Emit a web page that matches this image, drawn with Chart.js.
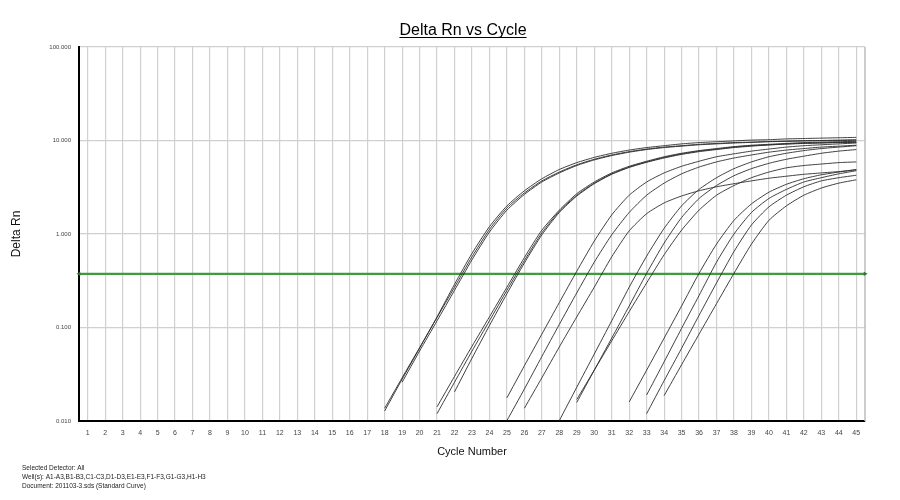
<!DOCTYPE html>
<html>
<head>
<meta charset="utf-8">
<script src="https://cdn.jsdelivr.net/npm/chart.js@4.4.1/dist/chart.umd.min.js"></script>
<style>
html,body{margin:0;padding:0;background:#fff;}
#c{display:block;}
</style>
</head>
<body>
<canvas id="c" width="900" height="500"></canvas>
<script>
// ---- data ----
const cycles = [1,2,3,4,5,6,7,8,9,10,11,12,13,14,15,16,17,18,19,20,21,22,23,24,25,26,27,28,29,30,31,32,33,34,35,36,37,38,39,40,41,42,43,44,45];
const yTicks = [0.01, 0.1, 1, 10, 100];
const threshold = 0.375;

const curveNames = ['G1a','G1b','G1c','G2a','G2b','G2c','G3a','G3b','G3c','G4a','G4b','G4c','G5a','G5b','G5c','G5d'];
const curveStarts = [18,18,19,21,21,22,25,25,26,28,29,29,32,33,33,34];

const g1a = [0.0128,0.028,0.06,0.13,0.29,0.62,1.2,2.0,2.9,3.9,4.9,5.8,6.6,7.3,7.9,8.4,8.8,9.2,9.5,9.7,9.9,10.1,10.2,10.4,10.5,10.6,10.7,10.8];
const g1b = [0.0137,0.029,0.061,0.128,0.27,0.57,1.12,1.9,2.75,3.7,4.6,5.5,6.3,7.0,7.6,8.1,8.5,8.8,9.1,9.3,9.5,9.6,9.75,9.85,9.95,10.0,10.1,10.2];
const g1c = [0.026,0.056,0.118,0.25,0.53,1.05,1.8,2.65,3.6,4.5,5.4,6.2,6.9,7.5,8.0,8.4,8.7,9.0,9.2,9.4,9.55,9.7,9.8,9.9,9.95,10.0,10.05];
const g2a = [0.0142,0.030,0.063,0.13,0.27,0.56,1.1,1.8,2.7,3.6,4.5,5.3,6.0,6.7,7.3,7.8,8.2,8.6,8.9,9.1,9.3,9.5,9.6,9.7,9.8];
const g2b = [0.012,0.026,0.056,0.118,0.25,0.52,1.03,1.75,2.6,3.5,4.4,5.2,5.9,6.6,7.2,7.7,8.1,8.5,8.8,9.0,9.2,9.35,9.45,9.55,9.6];
const g2c = [0.0205,0.047,0.105,0.23,0.49,0.98,1.7,2.55,3.45,4.35,5.15,5.85,6.5,7.1,7.6,8.0,8.4,8.7,8.95,9.15,9.3,9.4,9.5,9.55];
const g3a = [0.0177,0.039,0.085,0.185,0.40,0.84,1.6,2.6,3.6,4.5,5.3,6.0,6.7,7.2,7.7,8.1,8.5,8.8,9.0,9.2,9.4];
const g3b = [0.0101,0.022,0.049,0.108,0.235,0.50,0.98,1.7,2.6,3.5,4.4,5.2,5.9,6.5,7.0,7.5,7.9,8.2,8.5,8.7,8.9];
const g3c = [0.0137,0.029,0.062,0.13,0.27,0.57,1.08,1.65,2.15,2.55,2.9,3.2,3.45,3.7,3.95,4.15,4.35,4.5,4.65,4.85];
const g4a = [0.0101,0.023,0.052,0.118,0.27,0.58,1.15,2.0,3.0,4.0,5.0,5.9,6.7,7.3,7.8,8.2,8.5,8.8];
const g4b = [0.0158,0.035,0.077,0.17,0.38,0.8,1.5,2.4,3.3,4.2,5.0,5.7,6.3,6.8,7.3,7.7,8.0];
const g4c = [0.017,0.035,0.072,0.148,0.30,0.6,1.1,1.8,2.6,3.3,4.0,4.6,5.1,5.4,5.6,5.8,5.9];
const g5a = [0.016,0.035,0.077,0.17,0.38,0.78,1.4,2.1,2.8,3.4,3.9,4.3,4.6,4.9];
const g5b = [0.019,0.043,0.098,0.22,0.5,1.0,1.7,2.4,3.0,3.6,4.0,4.4,4.75];
const g5c = [0.012,0.027,0.06,0.135,0.30,0.65,1.25,1.95,2.6,3.2,3.7,4.0,4.25];
const g5d = [0.0187,0.04,0.085,0.18,0.38,0.78,1.4,2.0,2.6,3.1,3.5,3.8];

const curveValues = [g1a,g1b,g1c,g2a,g2b,g2c,g3a,g3b,g3c,g4a,g4b,g4c,g5a,g5b,g5c,g5d];

const titleText = 'Delta Rn vs Cycle';
const footerLines = [
  'Selected Detector: All',
  'Well(s): A1-A3,B1-B3,C1-C3,D1-D3,E1-E3,F1-F3,G1-G3,H1-H3',
  'Document: 201103-3.sds (Standard Curve)'
];

// ---- chart ----
const FONT = '"Liberation Sans", Arial, Helvetica, sans-serif';
Chart.defaults.font.family = FONT;

const datasets = curveValues.map((vals, i) => ({
  label: curveNames[i],
  data: vals.map((v, k) => ({x: curveStarts[i] + k, y: v})),
  borderColor: '#2b2b2b',
  borderWidth: 0.9,
  pointRadius: 0,
  tension: 0.2,
  fill: false
}));
datasets.push({
  label: 'Threshold',
  data: [{x: cycles[0] - 0.5, y: threshold}, {x: cycles[cycles.length - 1] + 0.5, y: threshold}],
  borderColor: '#3d9a3d',
  borderWidth: 2.4,
  pointRadius: 2.5,
  pointStyle: 'triangle',
  rotation: [-90, 90],
  pointBackgroundColor: '#2f6e2f',
  pointBorderColor: '#2f6e2f',
  pointBorderWidth: 0,
  clip: false
});

const decor = {
  id: 'decor',
  beforeDatasetsDraw(chart) {
    const {ctx, chartArea: a} = chart;
    ctx.save();
    ctx.strokeStyle = '#bcbcbc';
    ctx.lineWidth = 1.5;
    ctx.beginPath();
    ctx.moveTo(a.right, a.top);
    ctx.lineTo(a.right, a.bottom);
    ctx.stroke();
    ctx.restore();
  },
  afterDraw(chart) {
    const ctx = chart.ctx;
    ctx.save();
    ctx.fillStyle = '#000';
    ctx.font = '16px ' + FONT;
    ctx.textAlign = 'center';
    ctx.textBaseline = 'alphabetic';
    const tx = 463, ty = 35;
    ctx.fillText(titleText, tx, ty);
    const w = ctx.measureText(titleText).width;
    ctx.strokeStyle = '#000';
    ctx.lineWidth = 1;
    ctx.beginPath();
    ctx.moveTo(tx - w / 2, ty + 2.5);
    ctx.lineTo(tx + w / 2, ty + 2.5);
    ctx.stroke();
    ctx.font = '6.5px ' + FONT;
    ctx.textAlign = 'left';
    ctx.fillStyle = '#222';
    footerLines.forEach((t, i) => ctx.fillText(t, 22, 469.5 + i * 9.3));
    ctx.restore();
  }
};

new Chart(document.getElementById('c'), {
  type: 'line',
  data: {datasets},
  plugins: [decor],
  options: {
    responsive: false,
    animation: false,
    devicePixelRatio: 1,
    layout: {padding: {left: 0, right: 35, top: 47, bottom: 0}},
    plugins: {legend: {display: false}, tooltip: {enabled: false}, title: {display: false}},
    scales: {
      x: {
        type: 'linear',
        min: cycles[0] - 0.5,
        max: cycles[cycles.length - 1] + 0.5,
        afterBuildTicks: s => { s.ticks = cycles.map(v => ({value: v})); },
        afterFit: s => { s.height = 79; },
        ticks: {autoSkip: false, maxRotation: 0, padding: 8, color: '#444', font: {size: 7}, callback: v => String(v)},
        grid: {color: '#d0d0d0', lineWidth: 1.2, drawTicks: false},
        border: {color: '#000', width: 2},
        title: {display: true, text: 'Cycle Number', color: '#111', font: {size: 11}, padding: {top: 0, bottom: 41}}
      },
      y: {
        type: 'logarithmic',
        min: yTicks[0],
        max: yTicks[yTicks.length - 1],
        afterBuildTicks: s => { s.ticks = yTicks.map(v => ({value: v})); },
        afterFit: s => { s.width = 79; },
        ticks: {padding: 8, color: '#444', font: {size: 6}, callback: v => Number(v).toFixed(3)},
        grid: {color: '#d0d0d0', lineWidth: 1.2, drawTicks: false},
        border: {color: '#000', width: 2},
        title: {display: true, text: 'Delta Rn', color: '#111', font: {size: 12}, padding: {top: 9}}
      }
    }
  }
});
</script>
</body>
</html>
